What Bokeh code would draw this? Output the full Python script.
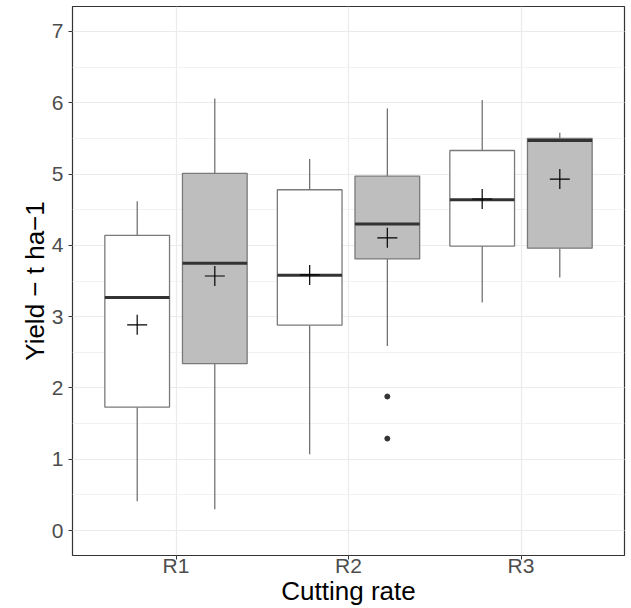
from bokeh.plotting import figure
from bokeh.models import FixedTicker, Range1d, SingleIntervalTicker
from bokeh.embed import file_html
from bokeh.resources import INLINE

# ---- data ----
categories = ["R1", "R2", "R3"]
cat_pos = [1, 2, 3]
groups = ["A", "B"]            # white (A) and grey (B) treatments
group_fill = {"A": "#FFFFFF", "B": "#BEBEBE"}
group_offset = {"A": -0.225, "B": 0.225}

lower_whisker = {"A": [0.41, 1.07, 3.20], "B": [0.30, 2.59, 3.55]}
q1 = {"A": [1.73, 2.88, 3.99], "B": [2.34, 3.81, 3.96]}
median = {"A": [3.27, 3.58, 4.64], "B": [3.75, 4.30, 5.47]}
q3 = {"A": [4.14, 4.78, 5.33], "B": [5.01, 4.97, 5.50]}
upper_whisker = {"A": [4.62, 5.21, 6.04], "B": [6.06, 5.92, 5.58]}
means = {"A": [2.885, 3.585, 4.65], "B": [3.57, 4.105, 4.93]}
outlier_cat = [2, 2]
outlier_group = ["B", "B"]
outlier_val = [1.88, 1.29]

y_ticks = [0, 1, 2, 3, 4, 5, 6, 7]
box_width = 0.375

FONT = "Liberation Sans"

p = figure(width=627, height=608, output_backend="svg", toolbar_location=None,
           x_range=Range1d(0.4, 3.6), y_range=Range1d(-0.35, 7.35),
           min_border_left=72, min_border_right=3, min_border_top=6, min_border_bottom=0)

p.background_fill_color = "white"
p.outline_line_color = "#333333"
p.outline_line_width = 1.2

# grids
p.xgrid.ticker = FixedTicker(ticks=cat_pos)
p.xgrid.grid_line_color = "#EBEBEB"
p.xgrid.grid_line_width = 1.2
p.ygrid.ticker = SingleIntervalTicker(interval=1, num_minor_ticks=2)
p.ygrid.grid_line_color = "#EBEBEB"
p.ygrid.grid_line_width = 1.2
p.ygrid.minor_grid_line_color = "#F2F2F2"
p.ygrid.minor_grid_line_width = 1

# axes
p.xaxis.ticker = FixedTicker(ticks=cat_pos)
p.xaxis.major_label_overrides = {c: n for c, n in zip(cat_pos, categories)}
p.yaxis.ticker = FixedTicker(ticks=y_ticks)
for ax in (p.xaxis[0], p.yaxis[0]):
    ax.axis_line_color = None
    ax.major_tick_line_color = "#333333"
    ax.major_tick_in = 0
    ax.major_tick_out = 4
    ax.minor_tick_line_color = None
    ax.major_label_text_font = FONT
    ax.major_label_text_font_size = "21px"
    ax.major_label_text_color = "#4D4D4D"
    ax.axis_label_text_font = FONT
    ax.axis_label_text_font_size = "26px"
    ax.axis_label_text_font_style = "normal"
    ax.axis_label_text_color = "#000000"

p.xaxis.axis_label = "Cutting rate"
p.xaxis.major_label_standoff = -6
p.xaxis.axis_label_standoff = -4
p.yaxis.axis_label = "Yield \u2212 t ha\u22121"
p.yaxis.major_label_standoff = 5
p.yaxis.axis_label_standoff = -1

for g in groups:
    xs = [c + group_offset[g] for c in cat_pos]
    # whiskers
    p.segment(x0=xs, y0=q3[g], x1=xs, y1=upper_whisker[g], line_color="#5A5A5A", line_width=1.1)
    p.segment(x0=xs, y0=q1[g], x1=xs, y1=lower_whisker[g], line_color="#5A5A5A", line_width=1.1)
    # boxes
    p.vbar(x=xs, bottom=q1[g], top=q3[g], width=box_width,
           fill_color=group_fill[g], line_color="#7A7A7A", line_width=1.3)
    # medians
    p.segment(x0=[x - box_width / 2 for x in xs], y0=median[g],
              x1=[x + box_width / 2 for x in xs], y1=median[g],
              line_color="#333333", line_width=3)
    # means
    p.scatter(x=xs, y=means[g], marker="cross", size=20, line_color="black", line_width=1.2)

ox = [c + group_offset[g] for c, g in zip(outlier_cat, outlier_group)]
p.scatter(x=ox, y=outlier_val, marker="circle", size=5, fill_color="#333333", line_color="#333333")

open("out.html", "w").write(file_html(p, INLINE))
